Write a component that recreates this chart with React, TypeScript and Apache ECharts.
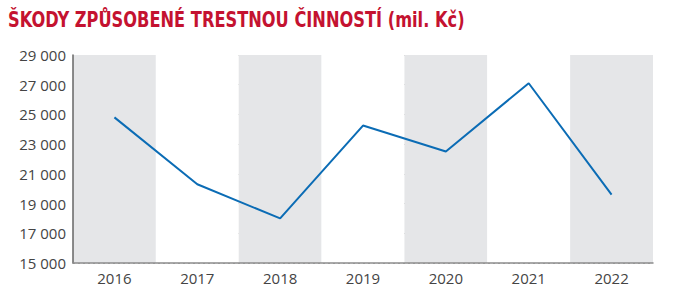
import React, { useEffect, useRef } from "react";
import * as echarts from "echarts";

const categories = ["2016", "2017", "2018", "2019", "2020", "2021", "2022"];
const values = [24800, 20300, 18000, 24250, 22500, 27100, 19600];
const yMin = 15000;
const yMax = 29000;
const yStep = 2000;
const titleText = "ŠKODY ZPŮSOBENÉ TRESTNOU ČINNOSTÍ (mil. Kč)";

export default function App() {
  const ref = useRef<HTMLDivElement>(null);
  useEffect(() => {
    const chart = echarts.init(ref.current!, null, { renderer: "svg" });
    chart.setOption({
      animation: false,
      graphic: [
        {
          type: "text",
          x: 8,
          y: 8,
          scaleX: 0.82,
          scaleY: 1,
          style: {
            text: titleText,
            fontFamily: "DejaVu Sans Condensed",
            fontWeight: "bold",
            fontSize: 22,
            fill: "#c41230",
            verticalAlign: "top",
          },
        },
      ],
      grid: { left: 73, right: 21, top: 55, bottom: 43, containLabel: false },
      xAxis: {
        type: "category",
        data: categories,
        boundaryGap: true,
        axisLine: { lineStyle: { color: "#8c8c8c", width: 1.5 } },
        axisTick: { show: false },
        axisLabel: { color: "#444", fontFamily: "Open Sans", fontSize: 15, margin: 7 },
        splitArea: { show: true, areaStyle: { color: ["#e5e6e8", "#ffffff"] } },
      },
      yAxis: {
        type: "value",
        min: yMin,
        max: yMax,
        interval: yStep,
        axisLine: { show: true, lineStyle: { color: "#666", width: 1.5 } },
        axisTick: { show: false },
        axisLabel: {
          color: "#444",
          fontFamily: "Open Sans",
          fontSize: 15,
          margin: 7,
          formatter: (v: number) => {
            const s = String(v);
            return s.slice(0, s.length - 3) + " " + s.slice(-3);
          },
        },
        splitLine: { show: true, lineStyle: { color: "#b0b0b0", type: [2, 3], width: 1 } },
      },
      series: [
        {
          type: "line",
          data: values,
          symbol: "none",
          lineStyle: { color: "#0b6cb5", width: 2 },
        },
      ],
    });
    return () => chart.dispose();
  }, []);
  return (
    <div
      ref={ref}
      style={{ position: "absolute", left: 0, top: 0, width: 674, height: 306 }}
    />
  );
}
